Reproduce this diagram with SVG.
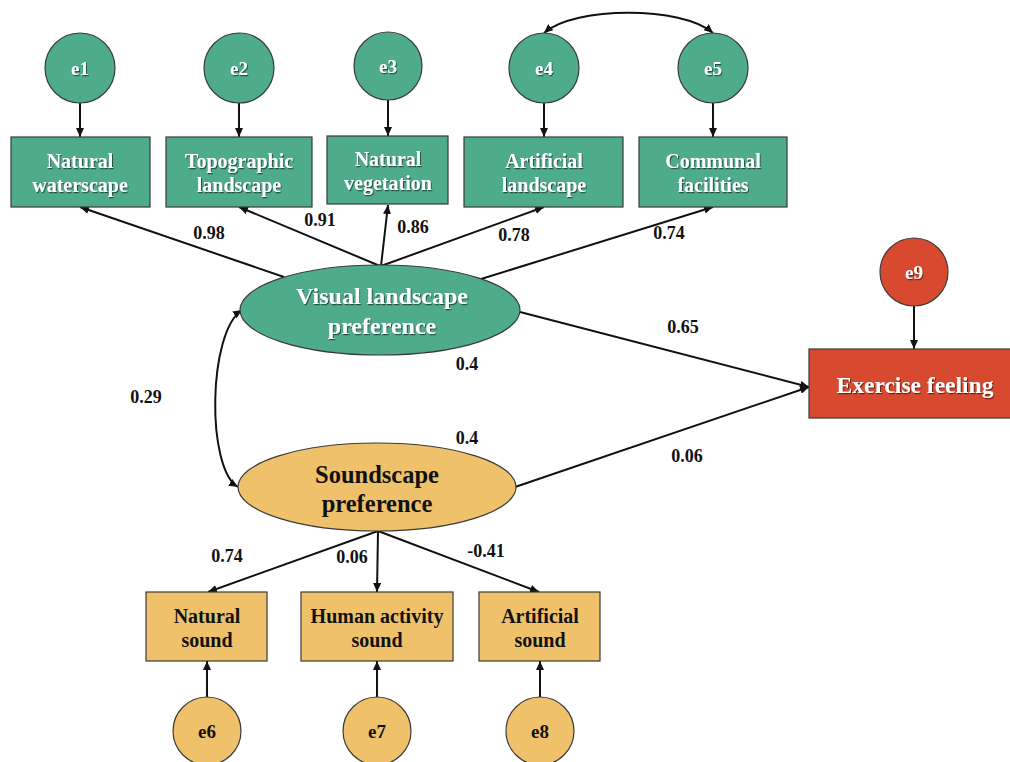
<svg xmlns="http://www.w3.org/2000/svg" width="1010" height="762" viewBox="0 0 1010 762">
<style>
.g{fill:#4fac8b;stroke:#3a3a3a;stroke-width:1.2}
.y{fill:#efc16a;stroke:#3a3a3a;stroke-width:1.2}
.r{fill:#d84a30;stroke:#3a3a3a;stroke-width:1.2}
text{font-family:"Liberation Serif","Times New Roman",serif;font-weight:bold;text-anchor:middle}
.w{fill:#ffffff;filter:url(#sh)}
.b{fill:#111111}
.lab{font-size:18px;fill:#111111}
.c line,.c path{stroke:#111111;stroke-width:2;fill:none}
</style>
<defs>
<filter id="sh" x="-10%" y="-10%" width="120%" height="130%"><feDropShadow dx="1" dy="1.2" stdDeviation="0.7" flood-color="#000000" flood-opacity="0.55"/></filter>
<marker id="ah" markerUnits="userSpaceOnUse" markerWidth="9" markerHeight="8" refX="9" refY="4" orient="auto-start-reverse"><path d="M0,0 L9,4 L0,8 z" fill="#111111"/></marker>
</defs>
<g class="c" id="connectors">
<line x1="80" y1="103" x2="80" y2="137" marker-end="url(#ah)"/>
<line x1="239" y1="103" x2="239" y2="137" marker-end="url(#ah)"/>
<line x1="388" y1="100" x2="388" y2="136" marker-end="url(#ah)"/>
<line x1="544" y1="103" x2="544" y2="137" marker-end="url(#ah)"/>
<line x1="713" y1="103" x2="713" y2="137" marker-end="url(#ah)"/>
<path d="M544,33 C575,6 682,6 713,33" marker-start="url(#ah)" marker-end="url(#ah)"/>
<line x1="284" y1="277" x2="80" y2="207" marker-end="url(#ah)"/>
<line x1="380" y1="266" x2="239" y2="207" marker-end="url(#ah)"/>
<line x1="381" y1="266" x2="388" y2="205" marker-end="url(#ah)"/>
<line x1="381" y1="266" x2="544" y2="207" marker-end="url(#ah)"/>
<line x1="481" y1="279" x2="713" y2="207" marker-end="url(#ah)"/>
<line x1="520" y1="312" x2="809" y2="387" marker-end="url(#ah)"/>
<line x1="515" y1="487" x2="809" y2="387" marker-end="url(#ah)"/>
<line x1="914" y1="306" x2="914" y2="349" marker-end="url(#ah)"/>
<path d="M242,310 C208,332 206,468 238,487" marker-start="url(#ah)" marker-end="url(#ah)"/>
<line x1="378" y1="531" x2="208" y2="592" marker-end="url(#ah)"/>
<line x1="378" y1="531" x2="377" y2="592" marker-end="url(#ah)"/>
<line x1="378" y1="531" x2="539" y2="592" marker-end="url(#ah)"/>
<line x1="207" y1="697" x2="207" y2="661" marker-end="url(#ah)"/>
<line x1="377" y1="697" x2="377" y2="661" marker-end="url(#ah)"/>
<line x1="540" y1="697" x2="540" y2="661" marker-end="url(#ah)"/>
</g>
<g id="labels" class="lab">
<text x="209" y="239" class="lab">0.98</text>
<text x="320" y="226" class="lab">0.91</text>
<text x="413" y="233" class="lab">0.86</text>
<text x="514" y="241" class="lab">0.78</text>
<text x="669" y="239" class="lab">0.74</text>
<text x="683" y="333" class="lab">0.65</text>
<text x="687" y="462" class="lab">0.06</text>
<text x="467" y="370" class="lab">0.4</text>
<text x="467" y="444" class="lab">0.4</text>
<text x="146" y="403" class="lab">0.29</text>
<text x="227" y="562" class="lab">0.74</text>
<text x="352" y="563" class="lab">0.06</text>
<text x="486" y="557" class="lab">-0.41</text>
</g>
<g id="e1"><circle class="g" cx="80" cy="68" r="35"/><text class="w" x="80" y="75" font-size="19">e1</text></g>
<g id="e2"><circle class="g" cx="239" cy="68" r="35"/><text class="w" x="239" y="75" font-size="19">e2</text></g>
<g id="e3"><circle class="g" cx="388" cy="66" r="34"/><text class="w" x="388" y="73" font-size="19">e3</text></g>
<g id="e4"><circle class="g" cx="544" cy="68" r="35"/><text class="w" x="544" y="75" font-size="19">e4</text></g>
<g id="e5"><circle class="g" cx="713" cy="68" r="35"/><text class="w" x="713" y="75" font-size="19">e5</text></g>
<g id="natural-waterscape"><rect class="g" x="11" y="137" width="139" height="70"/><text class="w" x="80" y="168" font-size="20">Natural</text><text class="w" x="80" y="192" font-size="20">waterscape</text></g>
<g id="topographic-landscape"><rect class="g" x="166" y="137" width="146" height="70"/><text class="w" x="239" y="168" font-size="20">Topographic</text><text class="w" x="239" y="192" font-size="20">landscape</text></g>
<g id="natural-vegetation"><rect class="g" x="327" y="136" width="121" height="68"/><text class="w" x="388" y="166" font-size="20">Natural</text><text class="w" x="388" y="190" font-size="20">vegetation</text></g>
<g id="artificial-landscape"><rect class="g" x="464" y="137" width="159" height="70"/><text class="w" x="544" y="168" font-size="20">Artificial</text><text class="w" x="544" y="192" font-size="20">landscape</text></g>
<g id="communal-facilities"><rect class="g" x="639" y="137" width="148" height="70"/><text class="w" x="713" y="168" font-size="20">Communal</text><text class="w" x="713" y="192" font-size="20">facilities</text></g>
<g id="visual-landscape-preference"><ellipse class="g" cx="380" cy="310" rx="140" ry="45"/><text class="w" x="382" y="304" font-size="24">Visual landscape</text><text class="w" x="382" y="334" font-size="24">preference</text></g>
<g id="soundscape-preference"><ellipse class="y" cx="377" cy="487" rx="139" ry="44"/><text class="b" x="377" y="483" font-size="24.5">Soundscape</text><text class="b" x="377" y="512" font-size="24.5">preference</text></g>
<g id="exercise-feeling"><rect class="r" x="809" y="349" width="215" height="69"/><text class="w" x="915" y="393" font-size="23.5">Exercise feeling</text></g>
<g id="e9"><circle class="r" cx="914" cy="272" r="34"/><text class="w" x="914" y="279" font-size="19">e9</text></g>
<g id="natural-sound"><rect class="y" x="146" y="592" width="121" height="69"/><text class="b" x="207" y="623" font-size="20">Natural</text><text class="b" x="207" y="647" font-size="20">sound</text></g>
<g id="human-activity-sound"><rect class="y" x="301" y="592" width="152" height="69"/><text class="b" x="377" y="623" font-size="20">Human activity</text><text class="b" x="377" y="647" font-size="20">sound</text></g>
<g id="artificial-sound"><rect class="y" x="479" y="592" width="121" height="69"/><text class="b" x="540" y="623" font-size="20">Artificial</text><text class="b" x="540" y="647" font-size="20">sound</text></g>
<g id="e6"><circle class="y" cx="207" cy="731" r="34"/><text class="b" x="207" y="738" font-size="19">e6</text></g>
<g id="e7"><circle class="y" cx="377" cy="731" r="34"/><text class="b" x="377" y="738" font-size="19">e7</text></g>
<g id="e8"><circle class="y" cx="540" cy="731" r="34"/><text class="b" x="540" y="738" font-size="19">e8</text></g>
</svg>
